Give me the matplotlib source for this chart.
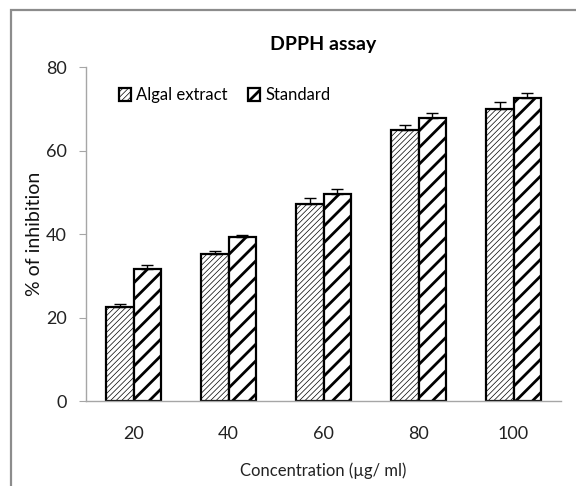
import numpy as np
import matplotlib.pyplot as plt
from matplotlib.patches import Rectangle

# Data
concentrations = ["20", "40", "60", "80", "100"]
algal_extract = [22.4, 35.1, 47.3, 64.9, 70.0]
algal_err = [0.9, 0.9, 1.4, 1.1, 1.5]
standard = [31.6, 39.3, 49.6, 67.7, 72.6]
standard_err = [0.9, 0.5, 1.2, 1.2, 1.1]

plt.rcParams['font.family'] = ['Lato', 'DejaVu Sans']

fig = plt.figure(figsize=(5.76, 4.86), dpi=100)
ax = fig.add_axes([86 / 576, 1 - 401 / 486, 475 / 576, 334 / 486])

x = np.arange(len(concentrations))
width = 0.29
zeros = [0] * len(x)
fine_lw = 0.5
bold_lw = 2.0


def set_hatch_lw(patches, lw):
    for p in patches:
        if hasattr(p, 'set_hatch_linewidth'):
            p.set_hatch_linewidth(lw)


# Algal extract: fine thin hatch
plt.rcParams['hatch.linewidth'] = fine_lw
b1 = ax.bar(x - width / 2, algal_extract, width, color='white', edgecolor='black',
            linewidth=1.6, hatch='//////', label='Algal extract', zorder=2)
set_hatch_lw(b1, fine_lw)

# Standard: coarse thick hatch
plt.rcParams['hatch.linewidth'] = bold_lw
b2 = ax.bar(x + width / 2, standard, width, color='white', edgecolor='black',
            linewidth=1.6, hatch='//', label='Standard', zorder=2)
set_hatch_lw(b2, bold_lw)

ax.errorbar(x - width / 2, algal_extract, yerr=[zeros, algal_err], fmt='none',
            ecolor='black', elinewidth=1, capsize=4, capthick=1, zorder=3)
ax.errorbar(x + width / 2, standard, yerr=[zeros, standard_err], fmt='none',
            ecolor='black', elinewidth=1, capsize=4, capthick=1, zorder=3)

ax.set_xlim(-0.5, 4.5)
ax.set_ylim(0, 80)
ax.set_yticks([0, 20, 40, 60, 80])
ax.set_xticks(x)
ax.set_xticklabels(concentrations)

for side in ['top', 'right']:
    ax.spines[side].set_visible(False)
for side in ['left', 'bottom']:
    ax.spines[side].set_color('#a6a6a6')
    ax.spines[side].set_linewidth(1.0)

ax.tick_params(axis='y', direction='out', length=5, color='#a6a6a6', labelsize=13,
               labelcolor='#222222', pad=9)
ax.tick_params(axis='x', length=0, labelsize=13, labelcolor='#222222', pad=18)

ax.set_ylabel('% of inhibition', fontsize=14, color='#111111', labelpad=2)
ax.set_xlabel('Concentration (µg/ ml)', fontsize=12, color='#222222', labelpad=15)
ax.set_title('DPPH assay', fontsize=14, fontweight='bold', pad=12)

leg = ax.legend(loc='center left', bbox_to_anchor=(0.055, 0.915), ncol=2, frameon=False,
                fontsize=12, handlelength=0.75, handleheight=0.75, handletextpad=0.3,
                columnspacing=1.2, borderaxespad=0)
handles = leg.get_patches()
set_hatch_lw(handles[:1], fine_lw)
set_hatch_lw(handles[1:], bold_lw)

# outer chart border (cropped on the right and bottom)
fig.patches.append(Rectangle((11 / 576, -0.5), 2.0, 0.5 + 1 - 10 / 486,
                             transform=fig.transFigure, fill=False,
                             edgecolor='#8c8c8c', linewidth=1.6, clip_on=False))

fig.savefig('out.png', dpi=100)
